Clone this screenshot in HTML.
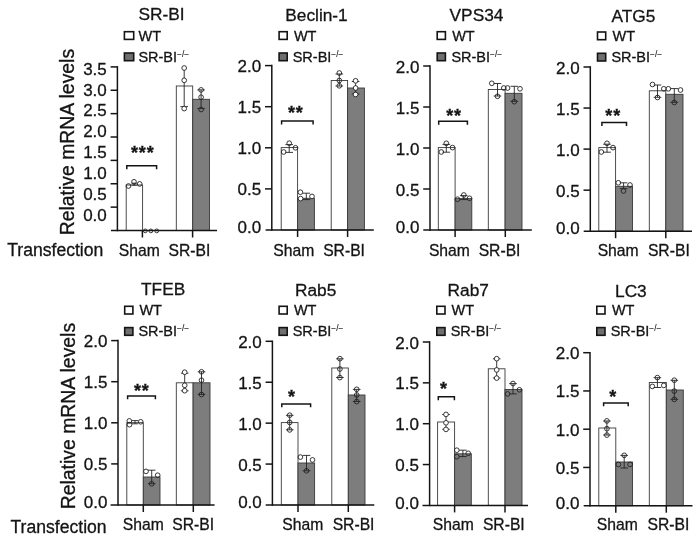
<!DOCTYPE html>
<html><head><meta charset="utf-8"><title>chart</title>
<style>html,body{margin:0;padding:0;background:#fff;}body{width:700px;height:540px;overflow:hidden;font-family:"Liberation Sans",sans-serif;}svg{display:block;will-change:transform;}</style>
</head><body>
<svg width="700" height="540" viewBox="0 0 700 540" font-family='"Liberation Sans", sans-serif' fill="#141414">
<rect x="0" y="0" width="700" height="540" fill="#fff"/>
<rect x="126.20" y="185.00" width="16.40" height="45.50" fill="#fff" stroke="#3a3a3a" stroke-width="0.9"/>
<rect x="176.30" y="86.00" width="16.40" height="144.50" fill="#fff" stroke="#3a3a3a" stroke-width="0.9"/>
<rect x="192.70" y="99.30" width="16.80" height="131.20" fill="#7d7d7d" stroke="#3a3a3a" stroke-width="0.9"/>
<line x1="117.40" y1="66.15" x2="117.40" y2="231.25" stroke="#141414" stroke-width="1.5" stroke-linecap="butt"/>
<line x1="111.00" y1="230.50" x2="217.00" y2="230.50" stroke="#141414" stroke-width="1.5" stroke-linecap="butt"/>
<line x1="110.60" y1="66.90" x2="117.40" y2="66.90" stroke="#141414" stroke-width="1.5" stroke-linecap="butt"/>
<text x="106.80" y="74.70" font-size="17.0" text-anchor="end" stroke="#141414" stroke-width="0.3" >3.5</text>
<line x1="110.60" y1="90.27" x2="117.40" y2="90.27" stroke="#141414" stroke-width="1.5" stroke-linecap="butt"/>
<text x="106.80" y="95.55" font-size="17.0" text-anchor="end" stroke="#141414" stroke-width="0.3" >3.0</text>
<line x1="110.60" y1="113.64" x2="117.40" y2="113.64" stroke="#141414" stroke-width="1.5" stroke-linecap="butt"/>
<text x="106.80" y="116.40" font-size="17.0" text-anchor="end" stroke="#141414" stroke-width="0.3" >2.5</text>
<line x1="110.60" y1="137.01" x2="117.40" y2="137.01" stroke="#141414" stroke-width="1.5" stroke-linecap="butt"/>
<text x="106.80" y="137.25" font-size="17.0" text-anchor="end" stroke="#141414" stroke-width="0.3" >2.0</text>
<line x1="110.60" y1="160.39" x2="117.40" y2="160.39" stroke="#141414" stroke-width="1.5" stroke-linecap="butt"/>
<text x="106.80" y="158.10" font-size="17.0" text-anchor="end" stroke="#141414" stroke-width="0.3" >1.5</text>
<line x1="110.60" y1="183.76" x2="117.40" y2="183.76" stroke="#141414" stroke-width="1.5" stroke-linecap="butt"/>
<text x="106.80" y="178.95" font-size="17.0" text-anchor="end" stroke="#141414" stroke-width="0.3" >1.0</text>
<line x1="110.60" y1="207.13" x2="117.40" y2="207.13" stroke="#141414" stroke-width="1.5" stroke-linecap="butt"/>
<text x="106.80" y="199.80" font-size="17.0" text-anchor="end" stroke="#141414" stroke-width="0.3" >0.5</text>
<text x="106.80" y="220.65" font-size="17.0" text-anchor="end" stroke="#141414" stroke-width="0.3" >0.0</text>
<line x1="142.40" y1="230.50" x2="142.40" y2="237.50" stroke="#141414" stroke-width="1.5" stroke-linecap="butt"/>
<line x1="192.60" y1="230.50" x2="192.60" y2="237.50" stroke="#141414" stroke-width="1.5" stroke-linecap="butt"/>
<line x1="134.20" y1="183.20" x2="134.20" y2="185.20" stroke="#222" stroke-width="0.9" stroke-linecap="butt"/>
<line x1="131.60" y1="183.20" x2="136.80" y2="183.20" stroke="#222" stroke-width="0.9" stroke-linecap="butt"/>
<line x1="131.60" y1="185.20" x2="136.80" y2="185.20" stroke="#222" stroke-width="0.9" stroke-linecap="butt"/>
<line x1="184.20" y1="68.50" x2="184.20" y2="106.60" stroke="#222" stroke-width="0.9" stroke-linecap="butt"/>
<line x1="180.40" y1="106.60" x2="188.00" y2="106.60" stroke="#222" stroke-width="0.9" stroke-linecap="butt"/>
<line x1="201.10" y1="89.90" x2="201.10" y2="108.60" stroke="#222" stroke-width="0.9" stroke-linecap="butt"/>
<line x1="197.30" y1="89.90" x2="204.90" y2="89.90" stroke="#222" stroke-width="0.9" stroke-linecap="butt"/>
<line x1="197.30" y1="108.60" x2="204.90" y2="108.60" stroke="#222" stroke-width="0.9" stroke-linecap="butt"/>
<circle cx="128.50" cy="186.00" r="2.35" fill="none" stroke="#222" stroke-width="0.9"/>
<circle cx="134.00" cy="181.80" r="2.35" fill="none" stroke="#222" stroke-width="0.9"/>
<circle cx="139.70" cy="183.90" r="2.35" fill="none" stroke="#222" stroke-width="0.9"/>
<circle cx="145.30" cy="230.90" r="1.9" fill="none" stroke="#222" stroke-width="0.9"/>
<circle cx="150.90" cy="230.90" r="1.9" fill="none" stroke="#222" stroke-width="0.9"/>
<circle cx="156.70" cy="230.90" r="1.9" fill="none" stroke="#222" stroke-width="0.9"/>
<circle cx="184.20" cy="68.00" r="2.35" fill="#fff" stroke="#222" stroke-width="0.9"/>
<circle cx="184.20" cy="80.30" r="2.35" fill="#fff" stroke="#222" stroke-width="0.9"/>
<circle cx="184.20" cy="108.60" r="2.35" fill="#fff" stroke="#222" stroke-width="0.9"/>
<circle cx="201.10" cy="89.90" r="2.35" fill="none" stroke="#222" stroke-width="0.9"/>
<circle cx="201.10" cy="97.20" r="2.35" fill="none" stroke="#222" stroke-width="0.9"/>
<circle cx="201.10" cy="109.50" r="2.35" fill="none" stroke="#222" stroke-width="0.9"/>
<polyline points="126.80,169.20 126.80,165.80 156.60,165.80 156.60,169.20" fill="none" stroke="#141414" stroke-width="1.5"/>
<text x="142.75" y="159.00" font-size="18" text-anchor="middle" stroke="#141414" stroke-width="0.3" font-weight="bold" letter-spacing="0.9">***</text>
<text x="161.50" y="20.40" font-size="17.3" text-anchor="middle" stroke="#141414" stroke-width="0.3" >SR-BI</text>
<rect x="124.40" y="31.70" width="9.30" height="7.70" fill="#fff" stroke="#141414" stroke-width="1.6"/>
<rect x="124.40" y="53.00" width="9.30" height="7.70" fill="#6f6f6f" stroke="#141414" stroke-width="1.6"/>
<text x="138.60" y="40.50" font-size="14.5" text-anchor="start" stroke="#141414" stroke-width="0.3" >WT</text>
<text x="138.40" y="61.50" font-size="14.5" text-anchor="start" stroke="#141414" stroke-width="0.3" >SR-BI<tspan font-size="8.3" dy="-5" stroke-width="0.1">−/−</tspan></text>
<text x="139.30" y="256.40" font-size="15.7" text-anchor="middle" stroke="#141414" stroke-width="0.3" >Sham</text>
<text x="189.45" y="256.40" font-size="15.7" text-anchor="middle" stroke="#141414" stroke-width="0.3" >SR-BI</text>
<rect x="281.20" y="147.60" width="16.40" height="82.40" fill="#fff" stroke="#3a3a3a" stroke-width="0.9"/>
<rect x="297.60" y="198.30" width="16.80" height="31.70" fill="#7d7d7d" stroke="#3a3a3a" stroke-width="0.9"/>
<rect x="331.20" y="80.50" width="16.40" height="149.50" fill="#fff" stroke="#3a3a3a" stroke-width="0.9"/>
<rect x="347.60" y="88.00" width="16.80" height="142.00" fill="#7d7d7d" stroke="#3a3a3a" stroke-width="0.9"/>
<line x1="271.80" y1="64.85" x2="271.80" y2="230.75" stroke="#141414" stroke-width="1.5" stroke-linecap="butt"/>
<line x1="265.60" y1="230.00" x2="373.80" y2="230.00" stroke="#141414" stroke-width="1.5" stroke-linecap="butt"/>
<line x1="265.00" y1="65.60" x2="271.80" y2="65.60" stroke="#141414" stroke-width="1.5" stroke-linecap="butt"/>
<text x="261.20" y="72.10" font-size="17.0" text-anchor="end" stroke="#141414" stroke-width="0.3" >2.0</text>
<line x1="265.00" y1="106.70" x2="271.80" y2="106.70" stroke="#141414" stroke-width="1.5" stroke-linecap="butt"/>
<text x="261.20" y="113.20" font-size="17.0" text-anchor="end" stroke="#141414" stroke-width="0.3" >1.5</text>
<line x1="265.00" y1="147.80" x2="271.80" y2="147.80" stroke="#141414" stroke-width="1.5" stroke-linecap="butt"/>
<text x="261.20" y="154.30" font-size="17.0" text-anchor="end" stroke="#141414" stroke-width="0.3" >1.0</text>
<line x1="265.00" y1="188.90" x2="271.80" y2="188.90" stroke="#141414" stroke-width="1.5" stroke-linecap="butt"/>
<text x="261.20" y="195.40" font-size="17.0" text-anchor="end" stroke="#141414" stroke-width="0.3" >0.5</text>
<text x="261.20" y="233.20" font-size="17.0" text-anchor="end" stroke="#141414" stroke-width="0.3" >0.0</text>
<line x1="297.60" y1="230.00" x2="297.60" y2="237.00" stroke="#141414" stroke-width="1.5" stroke-linecap="butt"/>
<line x1="347.60" y1="230.00" x2="347.60" y2="237.00" stroke="#141414" stroke-width="1.5" stroke-linecap="butt"/>
<line x1="289.20" y1="144.60" x2="289.20" y2="152.40" stroke="#222" stroke-width="0.9" stroke-linecap="butt"/>
<line x1="285.40" y1="144.60" x2="293.00" y2="144.60" stroke="#222" stroke-width="0.9" stroke-linecap="butt"/>
<line x1="285.40" y1="152.40" x2="293.00" y2="152.40" stroke="#222" stroke-width="0.9" stroke-linecap="butt"/>
<line x1="306.30" y1="193.20" x2="306.30" y2="199.60" stroke="#222" stroke-width="0.9" stroke-linecap="butt"/>
<line x1="302.50" y1="193.20" x2="310.10" y2="193.20" stroke="#222" stroke-width="0.9" stroke-linecap="butt"/>
<line x1="302.50" y1="199.60" x2="310.10" y2="199.60" stroke="#222" stroke-width="0.9" stroke-linecap="butt"/>
<line x1="339.30" y1="74.00" x2="339.30" y2="86.00" stroke="#222" stroke-width="0.9" stroke-linecap="butt"/>
<line x1="335.50" y1="74.00" x2="343.10" y2="74.00" stroke="#222" stroke-width="0.9" stroke-linecap="butt"/>
<line x1="335.50" y1="86.00" x2="343.10" y2="86.00" stroke="#222" stroke-width="0.9" stroke-linecap="butt"/>
<line x1="355.60" y1="81.50" x2="355.60" y2="94.00" stroke="#222" stroke-width="0.9" stroke-linecap="butt"/>
<line x1="351.80" y1="81.50" x2="359.40" y2="81.50" stroke="#222" stroke-width="0.9" stroke-linecap="butt"/>
<line x1="351.80" y1="94.00" x2="359.40" y2="94.00" stroke="#222" stroke-width="0.9" stroke-linecap="butt"/>
<circle cx="283.70" cy="152.00" r="2.35" fill="none" stroke="#222" stroke-width="0.9"/>
<circle cx="289.20" cy="143.20" r="2.35" fill="none" stroke="#222" stroke-width="0.9"/>
<circle cx="295.50" cy="147.80" r="2.35" fill="none" stroke="#222" stroke-width="0.9"/>
<circle cx="300.40" cy="192.20" r="2.35" fill="#fff" stroke="#222" stroke-width="0.9"/>
<circle cx="300.60" cy="198.60" r="2.35" fill="#fff" stroke="#222" stroke-width="0.9"/>
<circle cx="312.00" cy="196.40" r="2.35" fill="#fff" stroke="#222" stroke-width="0.9"/>
<circle cx="339.30" cy="73.00" r="2.35" fill="none" stroke="#222" stroke-width="0.9"/>
<circle cx="339.30" cy="80.50" r="2.35" fill="none" stroke="#222" stroke-width="0.9"/>
<circle cx="339.30" cy="85.80" r="2.35" fill="none" stroke="#222" stroke-width="0.9"/>
<circle cx="355.60" cy="80.80" r="2.35" fill="#fff" stroke="#222" stroke-width="0.9"/>
<circle cx="355.60" cy="88.00" r="2.35" fill="#fff" stroke="#222" stroke-width="0.9"/>
<circle cx="355.60" cy="94.50" r="2.35" fill="#fff" stroke="#222" stroke-width="0.9"/>
<polyline points="281.60,124.50 281.60,121.10 313.10,121.10 313.10,124.50" fill="none" stroke="#141414" stroke-width="1.5"/>
<text x="295.85" y="118.80" font-size="18" text-anchor="middle" stroke="#141414" stroke-width="0.3" font-weight="bold" letter-spacing="0.9">**</text>
<text x="316.50" y="20.50" font-size="17.3" text-anchor="middle" stroke="#141414" stroke-width="0.3" >Beclin-1</text>
<rect x="279.10" y="31.70" width="8.10" height="7.70" fill="#fff" stroke="#141414" stroke-width="1.6"/>
<rect x="279.10" y="53.00" width="8.10" height="7.70" fill="#6f6f6f" stroke="#141414" stroke-width="1.6"/>
<text x="293.90" y="40.50" font-size="14.5" text-anchor="start" stroke="#141414" stroke-width="0.3" >WT</text>
<text x="292.70" y="61.50" font-size="14.5" text-anchor="start" stroke="#141414" stroke-width="0.3" >SR-BI<tspan font-size="8.3" dy="-5" stroke-width="0.1">−/−</tspan></text>
<text x="293.75" y="256.30" font-size="15.7" text-anchor="middle" stroke="#141414" stroke-width="0.3" >Sham</text>
<text x="344.07" y="256.30" font-size="15.7" text-anchor="middle" stroke="#141414" stroke-width="0.3" >SR-BI</text>
<rect x="438.30" y="147.60" width="16.80" height="82.40" fill="#fff" stroke="#3a3a3a" stroke-width="0.9"/>
<rect x="455.10" y="198.60" width="16.70" height="31.40" fill="#7d7d7d" stroke="#3a3a3a" stroke-width="0.9"/>
<rect x="488.30" y="89.50" width="16.80" height="140.50" fill="#fff" stroke="#3a3a3a" stroke-width="0.9"/>
<rect x="505.10" y="93.30" width="16.90" height="136.70" fill="#7d7d7d" stroke="#3a3a3a" stroke-width="0.9"/>
<line x1="430.00" y1="65.25" x2="430.00" y2="230.75" stroke="#141414" stroke-width="1.5" stroke-linecap="butt"/>
<line x1="423.30" y1="230.00" x2="531.80" y2="230.00" stroke="#141414" stroke-width="1.5" stroke-linecap="butt"/>
<line x1="423.20" y1="66.00" x2="430.00" y2="66.00" stroke="#141414" stroke-width="1.5" stroke-linecap="butt"/>
<text x="419.40" y="72.50" font-size="17.0" text-anchor="end" stroke="#141414" stroke-width="0.3" >2.0</text>
<line x1="423.20" y1="107.00" x2="430.00" y2="107.00" stroke="#141414" stroke-width="1.5" stroke-linecap="butt"/>
<text x="419.40" y="113.50" font-size="17.0" text-anchor="end" stroke="#141414" stroke-width="0.3" >1.5</text>
<line x1="423.20" y1="148.00" x2="430.00" y2="148.00" stroke="#141414" stroke-width="1.5" stroke-linecap="butt"/>
<text x="419.40" y="154.50" font-size="17.0" text-anchor="end" stroke="#141414" stroke-width="0.3" >1.0</text>
<line x1="423.20" y1="189.00" x2="430.00" y2="189.00" stroke="#141414" stroke-width="1.5" stroke-linecap="butt"/>
<text x="419.40" y="195.50" font-size="17.0" text-anchor="end" stroke="#141414" stroke-width="0.3" >0.5</text>
<text x="419.40" y="233.20" font-size="17.0" text-anchor="end" stroke="#141414" stroke-width="0.3" >0.0</text>
<line x1="455.10" y1="230.00" x2="455.10" y2="237.00" stroke="#141414" stroke-width="1.5" stroke-linecap="butt"/>
<line x1="505.30" y1="230.00" x2="505.30" y2="237.00" stroke="#141414" stroke-width="1.5" stroke-linecap="butt"/>
<line x1="446.30" y1="144.40" x2="446.30" y2="152.20" stroke="#222" stroke-width="0.9" stroke-linecap="butt"/>
<line x1="442.50" y1="144.40" x2="450.10" y2="144.40" stroke="#222" stroke-width="0.9" stroke-linecap="butt"/>
<line x1="442.50" y1="152.20" x2="450.10" y2="152.20" stroke="#222" stroke-width="0.9" stroke-linecap="butt"/>
<line x1="463.70" y1="195.60" x2="463.70" y2="199.60" stroke="#222" stroke-width="0.9" stroke-linecap="butt"/>
<line x1="459.90" y1="195.60" x2="467.50" y2="195.60" stroke="#222" stroke-width="0.9" stroke-linecap="butt"/>
<line x1="459.90" y1="199.60" x2="467.50" y2="199.60" stroke="#222" stroke-width="0.9" stroke-linecap="butt"/>
<line x1="497.50" y1="83.50" x2="497.50" y2="96.00" stroke="#222" stroke-width="0.9" stroke-linecap="butt"/>
<line x1="493.70" y1="83.50" x2="501.30" y2="83.50" stroke="#222" stroke-width="0.9" stroke-linecap="butt"/>
<line x1="493.70" y1="96.00" x2="501.30" y2="96.00" stroke="#222" stroke-width="0.9" stroke-linecap="butt"/>
<line x1="514.30" y1="86.30" x2="514.30" y2="101.30" stroke="#222" stroke-width="0.9" stroke-linecap="butt"/>
<line x1="510.50" y1="86.30" x2="518.10" y2="86.30" stroke="#222" stroke-width="0.9" stroke-linecap="butt"/>
<line x1="510.50" y1="101.30" x2="518.10" y2="101.30" stroke="#222" stroke-width="0.9" stroke-linecap="butt"/>
<circle cx="441.30" cy="152.00" r="2.35" fill="none" stroke="#222" stroke-width="0.9"/>
<circle cx="446.30" cy="143.30" r="2.35" fill="none" stroke="#222" stroke-width="0.9"/>
<circle cx="452.50" cy="147.60" r="2.35" fill="none" stroke="#222" stroke-width="0.9"/>
<circle cx="457.50" cy="199.20" r="2.35" fill="none" stroke="#222" stroke-width="0.9"/>
<circle cx="463.80" cy="195.00" r="2.35" fill="none" stroke="#222" stroke-width="0.9"/>
<circle cx="469.50" cy="198.30" r="2.35" fill="none" stroke="#222" stroke-width="0.9"/>
<circle cx="491.80" cy="83.30" r="2.35" fill="none" stroke="#222" stroke-width="0.9"/>
<circle cx="497.50" cy="96.30" r="2.35" fill="none" stroke="#222" stroke-width="0.9"/>
<circle cx="503.80" cy="88.00" r="2.35" fill="none" stroke="#222" stroke-width="0.9"/>
<circle cx="507.60" cy="88.00" r="2.35" fill="none" stroke="#222" stroke-width="0.9"/>
<circle cx="514.30" cy="101.70" r="2.35" fill="none" stroke="#222" stroke-width="0.9"/>
<circle cx="520.00" cy="88.80" r="2.35" fill="none" stroke="#222" stroke-width="0.9"/>
<polyline points="438.70,124.70 438.70,121.30 467.40,121.30 467.40,124.70" fill="none" stroke="#141414" stroke-width="1.5"/>
<text x="454.05" y="121.90" font-size="18" text-anchor="middle" stroke="#141414" stroke-width="0.3" font-weight="bold" letter-spacing="0.9">**</text>
<text x="476.50" y="20.50" font-size="17.3" text-anchor="middle" stroke="#141414" stroke-width="0.3" >VPS34</text>
<rect x="437.20" y="31.70" width="8.20" height="7.70" fill="#fff" stroke="#141414" stroke-width="1.6"/>
<rect x="437.20" y="53.00" width="8.20" height="7.70" fill="#6f6f6f" stroke="#141414" stroke-width="1.6"/>
<text x="452.20" y="40.50" font-size="14.5" text-anchor="start" stroke="#141414" stroke-width="0.3" >WT</text>
<text x="451.40" y="61.50" font-size="14.5" text-anchor="start" stroke="#141414" stroke-width="0.3" >SR-BI<tspan font-size="8.3" dy="-5" stroke-width="0.1">−/−</tspan></text>
<text x="449.40" y="256.30" font-size="15.7" text-anchor="middle" stroke="#141414" stroke-width="0.3" >Sham</text>
<text x="499.55" y="256.30" font-size="15.7" text-anchor="middle" stroke="#141414" stroke-width="0.3" >SR-BI</text>
<rect x="598.80" y="147.60" width="16.80" height="83.60" fill="#fff" stroke="#3a3a3a" stroke-width="0.9"/>
<rect x="615.60" y="186.30" width="16.90" height="44.90" fill="#7d7d7d" stroke="#3a3a3a" stroke-width="0.9"/>
<rect x="649.30" y="90.80" width="16.50" height="140.40" fill="#fff" stroke="#3a3a3a" stroke-width="0.9"/>
<rect x="665.80" y="94.30" width="17.20" height="136.90" fill="#7d7d7d" stroke="#3a3a3a" stroke-width="0.9"/>
<line x1="590.30" y1="66.25" x2="590.30" y2="231.95" stroke="#141414" stroke-width="1.5" stroke-linecap="butt"/>
<line x1="583.70" y1="231.20" x2="692.00" y2="231.20" stroke="#141414" stroke-width="1.5" stroke-linecap="butt"/>
<line x1="583.50" y1="67.00" x2="590.30" y2="67.00" stroke="#141414" stroke-width="1.5" stroke-linecap="butt"/>
<text x="579.70" y="73.50" font-size="17.0" text-anchor="end" stroke="#141414" stroke-width="0.3" >2.0</text>
<line x1="583.50" y1="108.05" x2="590.30" y2="108.05" stroke="#141414" stroke-width="1.5" stroke-linecap="butt"/>
<text x="579.70" y="114.55" font-size="17.0" text-anchor="end" stroke="#141414" stroke-width="0.3" >1.5</text>
<line x1="583.50" y1="149.10" x2="590.30" y2="149.10" stroke="#141414" stroke-width="1.5" stroke-linecap="butt"/>
<text x="579.70" y="155.60" font-size="17.0" text-anchor="end" stroke="#141414" stroke-width="0.3" >1.0</text>
<line x1="583.50" y1="190.15" x2="590.30" y2="190.15" stroke="#141414" stroke-width="1.5" stroke-linecap="butt"/>
<text x="579.70" y="196.65" font-size="17.0" text-anchor="end" stroke="#141414" stroke-width="0.3" >0.5</text>
<text x="579.70" y="234.40" font-size="17.0" text-anchor="end" stroke="#141414" stroke-width="0.3" >0.0</text>
<line x1="615.60" y1="231.20" x2="615.60" y2="238.20" stroke="#141414" stroke-width="1.5" stroke-linecap="butt"/>
<line x1="665.80" y1="231.20" x2="665.80" y2="238.20" stroke="#141414" stroke-width="1.5" stroke-linecap="butt"/>
<line x1="607.00" y1="144.20" x2="607.00" y2="152.20" stroke="#222" stroke-width="0.9" stroke-linecap="butt"/>
<line x1="603.20" y1="144.20" x2="610.80" y2="144.20" stroke="#222" stroke-width="0.9" stroke-linecap="butt"/>
<line x1="603.20" y1="152.20" x2="610.80" y2="152.20" stroke="#222" stroke-width="0.9" stroke-linecap="butt"/>
<line x1="623.60" y1="182.80" x2="623.60" y2="188.60" stroke="#222" stroke-width="0.9" stroke-linecap="butt"/>
<line x1="619.80" y1="182.80" x2="627.40" y2="182.80" stroke="#222" stroke-width="0.9" stroke-linecap="butt"/>
<line x1="619.80" y1="188.60" x2="627.40" y2="188.60" stroke="#222" stroke-width="0.9" stroke-linecap="butt"/>
<line x1="657.50" y1="85.00" x2="657.50" y2="97.30" stroke="#222" stroke-width="0.9" stroke-linecap="butt"/>
<line x1="653.70" y1="85.00" x2="661.30" y2="85.00" stroke="#222" stroke-width="0.9" stroke-linecap="butt"/>
<line x1="653.70" y1="97.30" x2="661.30" y2="97.30" stroke="#222" stroke-width="0.9" stroke-linecap="butt"/>
<line x1="674.30" y1="88.60" x2="674.30" y2="102.30" stroke="#222" stroke-width="0.9" stroke-linecap="butt"/>
<line x1="670.50" y1="88.60" x2="678.10" y2="88.60" stroke="#222" stroke-width="0.9" stroke-linecap="butt"/>
<line x1="670.50" y1="102.30" x2="678.10" y2="102.30" stroke="#222" stroke-width="0.9" stroke-linecap="butt"/>
<circle cx="601.30" cy="152.00" r="2.35" fill="none" stroke="#222" stroke-width="0.9"/>
<circle cx="607.00" cy="143.30" r="2.35" fill="none" stroke="#222" stroke-width="0.9"/>
<circle cx="613.00" cy="147.60" r="2.35" fill="none" stroke="#222" stroke-width="0.9"/>
<circle cx="618.30" cy="182.80" r="2.35" fill="none" stroke="#222" stroke-width="0.9"/>
<circle cx="623.50" cy="191.00" r="2.35" fill="none" stroke="#222" stroke-width="0.9"/>
<circle cx="630.00" cy="185.00" r="2.35" fill="none" stroke="#222" stroke-width="0.9"/>
<circle cx="652.50" cy="84.50" r="2.35" fill="none" stroke="#222" stroke-width="0.9"/>
<circle cx="657.50" cy="97.50" r="2.35" fill="none" stroke="#222" stroke-width="0.9"/>
<circle cx="663.80" cy="88.80" r="2.35" fill="none" stroke="#222" stroke-width="0.9"/>
<circle cx="668.30" cy="88.80" r="2.35" fill="none" stroke="#222" stroke-width="0.9"/>
<circle cx="674.30" cy="102.50" r="2.35" fill="none" stroke="#222" stroke-width="0.9"/>
<circle cx="680.50" cy="90.00" r="2.35" fill="none" stroke="#222" stroke-width="0.9"/>
<polyline points="601.90,125.90 601.90,122.50 626.50,122.50 626.50,125.90" fill="none" stroke="#141414" stroke-width="1.5"/>
<text x="613.15" y="122.00" font-size="18" text-anchor="middle" stroke="#141414" stroke-width="0.3" font-weight="bold" letter-spacing="0.9">**</text>
<text x="633.50" y="21.50" font-size="17.3" text-anchor="middle" stroke="#141414" stroke-width="0.3" >ATG5</text>
<rect x="597.50" y="32.00" width="8.20" height="7.70" fill="#fff" stroke="#141414" stroke-width="1.6"/>
<rect x="597.50" y="53.30" width="8.20" height="7.70" fill="#6f6f6f" stroke="#141414" stroke-width="1.6"/>
<text x="612.60" y="40.80" font-size="14.5" text-anchor="start" stroke="#141414" stroke-width="0.3" >WT</text>
<text x="611.40" y="61.80" font-size="14.5" text-anchor="start" stroke="#141414" stroke-width="0.3" >SR-BI<tspan font-size="8.3" dy="-5" stroke-width="0.1">−/−</tspan></text>
<text x="618.12" y="256.30" font-size="15.7" text-anchor="middle" stroke="#141414" stroke-width="0.3" >Sham</text>
<text x="668.83" y="256.30" font-size="15.7" text-anchor="middle" stroke="#141414" stroke-width="0.3" >SR-BI</text>
<rect x="126.80" y="422.70" width="16.50" height="82.30" fill="#fff" stroke="#3a3a3a" stroke-width="0.9"/>
<rect x="143.30" y="477.00" width="16.70" height="28.00" fill="#7d7d7d" stroke="#3a3a3a" stroke-width="0.9"/>
<rect x="176.30" y="382.80" width="16.80" height="122.20" fill="#fff" stroke="#3a3a3a" stroke-width="0.9"/>
<rect x="193.10" y="382.80" width="16.90" height="122.20" fill="#7d7d7d" stroke="#3a3a3a" stroke-width="0.9"/>
<line x1="118.00" y1="339.85" x2="118.00" y2="505.75" stroke="#141414" stroke-width="1.5" stroke-linecap="butt"/>
<line x1="110.60" y1="505.00" x2="214.60" y2="505.00" stroke="#141414" stroke-width="1.5" stroke-linecap="butt"/>
<line x1="111.20" y1="340.60" x2="118.00" y2="340.60" stroke="#141414" stroke-width="1.5" stroke-linecap="butt"/>
<text x="107.40" y="347.10" font-size="17.0" text-anchor="end" stroke="#141414" stroke-width="0.3" >2.0</text>
<line x1="111.20" y1="381.70" x2="118.00" y2="381.70" stroke="#141414" stroke-width="1.5" stroke-linecap="butt"/>
<text x="107.40" y="388.20" font-size="17.0" text-anchor="end" stroke="#141414" stroke-width="0.3" >1.5</text>
<line x1="111.20" y1="422.80" x2="118.00" y2="422.80" stroke="#141414" stroke-width="1.5" stroke-linecap="butt"/>
<text x="107.40" y="429.30" font-size="17.0" text-anchor="end" stroke="#141414" stroke-width="0.3" >1.0</text>
<line x1="111.20" y1="463.90" x2="118.00" y2="463.90" stroke="#141414" stroke-width="1.5" stroke-linecap="butt"/>
<text x="107.40" y="470.40" font-size="17.0" text-anchor="end" stroke="#141414" stroke-width="0.3" >0.5</text>
<text x="107.40" y="508.20" font-size="17.0" text-anchor="end" stroke="#141414" stroke-width="0.3" >0.0</text>
<line x1="143.30" y1="505.00" x2="143.30" y2="512.00" stroke="#141414" stroke-width="1.5" stroke-linecap="butt"/>
<line x1="193.30" y1="505.00" x2="193.30" y2="512.00" stroke="#141414" stroke-width="1.5" stroke-linecap="butt"/>
<line x1="135.00" y1="420.60" x2="135.00" y2="423.80" stroke="#222" stroke-width="0.9" stroke-linecap="butt"/>
<line x1="132.00" y1="420.60" x2="138.00" y2="420.60" stroke="#222" stroke-width="0.9" stroke-linecap="butt"/>
<line x1="132.00" y1="423.80" x2="138.00" y2="423.80" stroke="#222" stroke-width="0.9" stroke-linecap="butt"/>
<line x1="151.70" y1="470.20" x2="151.70" y2="483.70" stroke="#222" stroke-width="0.9" stroke-linecap="butt"/>
<line x1="147.90" y1="470.20" x2="155.50" y2="470.20" stroke="#222" stroke-width="0.9" stroke-linecap="butt"/>
<line x1="147.90" y1="483.70" x2="155.50" y2="483.70" stroke="#222" stroke-width="0.9" stroke-linecap="butt"/>
<line x1="184.70" y1="373.20" x2="184.70" y2="390.80" stroke="#222" stroke-width="0.9" stroke-linecap="butt"/>
<line x1="180.90" y1="373.20" x2="188.50" y2="373.20" stroke="#222" stroke-width="0.9" stroke-linecap="butt"/>
<line x1="180.90" y1="390.80" x2="188.50" y2="390.80" stroke="#222" stroke-width="0.9" stroke-linecap="butt"/>
<line x1="201.50" y1="371.80" x2="201.50" y2="394.40" stroke="#222" stroke-width="0.9" stroke-linecap="butt"/>
<line x1="197.70" y1="371.80" x2="205.30" y2="371.80" stroke="#222" stroke-width="0.9" stroke-linecap="butt"/>
<line x1="197.70" y1="394.40" x2="205.30" y2="394.40" stroke="#222" stroke-width="0.9" stroke-linecap="butt"/>
<circle cx="129.30" cy="420.90" r="2.35" fill="none" stroke="#222" stroke-width="0.9"/>
<circle cx="129.50" cy="424.70" r="2.35" fill="none" stroke="#222" stroke-width="0.9"/>
<circle cx="140.70" cy="421.80" r="2.35" fill="none" stroke="#222" stroke-width="0.9"/>
<circle cx="146.00" cy="471.40" r="2.35" fill="none" stroke="#222" stroke-width="0.9"/>
<circle cx="151.70" cy="483.80" r="2.35" fill="none" stroke="#222" stroke-width="0.9"/>
<circle cx="157.70" cy="475.20" r="2.35" fill="none" stroke="#222" stroke-width="0.9"/>
<circle cx="184.70" cy="372.20" r="2.35" fill="#fff" stroke="#222" stroke-width="0.9"/>
<circle cx="184.70" cy="385.30" r="2.35" fill="#fff" stroke="#222" stroke-width="0.9"/>
<circle cx="184.70" cy="390.70" r="2.35" fill="#fff" stroke="#222" stroke-width="0.9"/>
<circle cx="201.50" cy="371.80" r="2.35" fill="none" stroke="#222" stroke-width="0.9"/>
<circle cx="201.50" cy="380.20" r="2.35" fill="none" stroke="#222" stroke-width="0.9"/>
<circle cx="201.50" cy="394.50" r="2.35" fill="none" stroke="#222" stroke-width="0.9"/>
<polyline points="127.60,399.30 127.60,395.90 155.40,395.90 155.40,399.30" fill="none" stroke="#141414" stroke-width="1.5"/>
<text x="141.85" y="397.20" font-size="18" text-anchor="middle" stroke="#141414" stroke-width="0.3" font-weight="bold" letter-spacing="0.9">**</text>
<text x="163.12" y="295.40" font-size="17.3" text-anchor="middle" stroke="#141414" stroke-width="0.3" >TFEB</text>
<rect x="124.70" y="306.30" width="8.20" height="7.70" fill="#fff" stroke="#141414" stroke-width="1.6"/>
<rect x="124.70" y="327.60" width="8.20" height="7.70" fill="#6f6f6f" stroke="#141414" stroke-width="1.6"/>
<text x="139.40" y="315.10" font-size="14.5" text-anchor="start" stroke="#141414" stroke-width="0.3" >WT</text>
<text x="138.40" y="336.10" font-size="14.5" text-anchor="start" stroke="#141414" stroke-width="0.3" >SR-BI<tspan font-size="8.3" dy="-5" stroke-width="0.1">−/−</tspan></text>
<text x="143.25" y="530.10" font-size="15.7" text-anchor="middle" stroke="#141414" stroke-width="0.3" >Sham</text>
<text x="193.10" y="530.10" font-size="15.7" text-anchor="middle" stroke="#141414" stroke-width="0.3" >SR-BI</text>
<rect x="281.30" y="422.60" width="16.70" height="82.40" fill="#fff" stroke="#3a3a3a" stroke-width="0.9"/>
<rect x="298.00" y="463.00" width="16.60" height="42.00" fill="#7d7d7d" stroke="#3a3a3a" stroke-width="0.9"/>
<rect x="331.80" y="368.00" width="16.50" height="137.00" fill="#fff" stroke="#3a3a3a" stroke-width="0.9"/>
<rect x="348.30" y="395.00" width="16.70" height="110.00" fill="#7d7d7d" stroke="#3a3a3a" stroke-width="0.9"/>
<line x1="272.40" y1="340.55" x2="272.40" y2="505.75" stroke="#141414" stroke-width="1.5" stroke-linecap="butt"/>
<line x1="265.70" y1="505.00" x2="374.30" y2="505.00" stroke="#141414" stroke-width="1.5" stroke-linecap="butt"/>
<line x1="265.60" y1="341.30" x2="272.40" y2="341.30" stroke="#141414" stroke-width="1.5" stroke-linecap="butt"/>
<text x="261.80" y="347.80" font-size="17.0" text-anchor="end" stroke="#141414" stroke-width="0.3" >2.0</text>
<line x1="265.60" y1="382.23" x2="272.40" y2="382.23" stroke="#141414" stroke-width="1.5" stroke-linecap="butt"/>
<text x="261.80" y="388.73" font-size="17.0" text-anchor="end" stroke="#141414" stroke-width="0.3" >1.5</text>
<line x1="265.60" y1="423.15" x2="272.40" y2="423.15" stroke="#141414" stroke-width="1.5" stroke-linecap="butt"/>
<text x="261.80" y="429.65" font-size="17.0" text-anchor="end" stroke="#141414" stroke-width="0.3" >1.0</text>
<line x1="265.60" y1="464.07" x2="272.40" y2="464.07" stroke="#141414" stroke-width="1.5" stroke-linecap="butt"/>
<text x="261.80" y="470.57" font-size="17.0" text-anchor="end" stroke="#141414" stroke-width="0.3" >0.5</text>
<text x="261.80" y="508.20" font-size="17.0" text-anchor="end" stroke="#141414" stroke-width="0.3" >0.0</text>
<line x1="298.00" y1="505.00" x2="298.00" y2="512.00" stroke="#141414" stroke-width="1.5" stroke-linecap="butt"/>
<line x1="348.30" y1="505.00" x2="348.30" y2="512.00" stroke="#141414" stroke-width="1.5" stroke-linecap="butt"/>
<line x1="289.70" y1="415.30" x2="289.70" y2="429.80" stroke="#222" stroke-width="0.9" stroke-linecap="butt"/>
<line x1="285.90" y1="415.30" x2="293.50" y2="415.30" stroke="#222" stroke-width="0.9" stroke-linecap="butt"/>
<line x1="285.90" y1="429.80" x2="293.50" y2="429.80" stroke="#222" stroke-width="0.9" stroke-linecap="butt"/>
<line x1="306.50" y1="455.40" x2="306.50" y2="470.80" stroke="#222" stroke-width="0.9" stroke-linecap="butt"/>
<line x1="302.70" y1="455.40" x2="310.30" y2="455.40" stroke="#222" stroke-width="0.9" stroke-linecap="butt"/>
<line x1="302.70" y1="470.80" x2="310.30" y2="470.80" stroke="#222" stroke-width="0.9" stroke-linecap="butt"/>
<line x1="339.90" y1="358.80" x2="339.90" y2="377.50" stroke="#222" stroke-width="0.9" stroke-linecap="butt"/>
<line x1="336.10" y1="358.80" x2="343.70" y2="358.80" stroke="#222" stroke-width="0.9" stroke-linecap="butt"/>
<line x1="336.10" y1="377.50" x2="343.70" y2="377.50" stroke="#222" stroke-width="0.9" stroke-linecap="butt"/>
<line x1="356.70" y1="389.40" x2="356.70" y2="401.50" stroke="#222" stroke-width="0.9" stroke-linecap="butt"/>
<line x1="352.90" y1="389.40" x2="360.50" y2="389.40" stroke="#222" stroke-width="0.9" stroke-linecap="butt"/>
<line x1="352.90" y1="401.50" x2="360.50" y2="401.50" stroke="#222" stroke-width="0.9" stroke-linecap="butt"/>
<circle cx="289.70" cy="415.20" r="2.35" fill="none" stroke="#222" stroke-width="0.9"/>
<circle cx="289.70" cy="422.40" r="2.35" fill="none" stroke="#222" stroke-width="0.9"/>
<circle cx="289.70" cy="429.90" r="2.35" fill="none" stroke="#222" stroke-width="0.9"/>
<circle cx="300.40" cy="457.10" r="2.35" fill="none" stroke="#222" stroke-width="0.9"/>
<circle cx="306.50" cy="470.80" r="2.35" fill="none" stroke="#222" stroke-width="0.9"/>
<circle cx="312.50" cy="459.90" r="2.35" fill="none" stroke="#222" stroke-width="0.9"/>
<circle cx="339.90" cy="358.70" r="2.35" fill="none" stroke="#222" stroke-width="0.9"/>
<circle cx="339.90" cy="369.00" r="2.35" fill="none" stroke="#222" stroke-width="0.9"/>
<circle cx="339.90" cy="377.60" r="2.35" fill="none" stroke="#222" stroke-width="0.9"/>
<circle cx="356.70" cy="389.30" r="2.35" fill="none" stroke="#222" stroke-width="0.9"/>
<circle cx="356.70" cy="395.00" r="2.35" fill="none" stroke="#222" stroke-width="0.9"/>
<circle cx="356.70" cy="401.60" r="2.35" fill="none" stroke="#222" stroke-width="0.9"/>
<polyline points="281.80,407.30 281.80,403.90 310.60,403.90 310.60,407.30" fill="none" stroke="#141414" stroke-width="1.5"/>
<text x="291.95" y="402.70" font-size="18" text-anchor="middle" stroke="#141414" stroke-width="0.3" font-weight="bold" letter-spacing="0.9">*</text>
<text x="315.62" y="296.10" font-size="17.3" text-anchor="middle" stroke="#141414" stroke-width="0.3" >Rab5</text>
<rect x="279.10" y="306.30" width="8.10" height="7.70" fill="#fff" stroke="#141414" stroke-width="1.6"/>
<rect x="279.10" y="327.60" width="8.10" height="7.70" fill="#6f6f6f" stroke="#141414" stroke-width="1.6"/>
<text x="293.90" y="315.10" font-size="14.5" text-anchor="start" stroke="#141414" stroke-width="0.3" >WT</text>
<text x="292.70" y="336.10" font-size="14.5" text-anchor="start" stroke="#141414" stroke-width="0.3" >SR-BI<tspan font-size="8.3" dy="-5" stroke-width="0.1">−/−</tspan></text>
<text x="302.80" y="529.60" font-size="15.7" text-anchor="middle" stroke="#141414" stroke-width="0.3" >Sham</text>
<text x="353.57" y="529.60" font-size="15.7" text-anchor="middle" stroke="#141414" stroke-width="0.3" >SR-BI</text>
<rect x="437.60" y="422.00" width="17.00" height="83.40" fill="#fff" stroke="#3a3a3a" stroke-width="0.9"/>
<rect x="454.60" y="453.80" width="16.70" height="51.60" fill="#7d7d7d" stroke="#3a3a3a" stroke-width="0.9"/>
<rect x="488.30" y="368.80" width="16.70" height="136.60" fill="#fff" stroke="#3a3a3a" stroke-width="0.9"/>
<rect x="505.00" y="389.50" width="17.00" height="115.90" fill="#7d7d7d" stroke="#3a3a3a" stroke-width="0.9"/>
<line x1="429.60" y1="341.25" x2="429.60" y2="506.15" stroke="#141414" stroke-width="1.5" stroke-linecap="butt"/>
<line x1="422.50" y1="505.40" x2="528.00" y2="505.40" stroke="#141414" stroke-width="1.5" stroke-linecap="butt"/>
<line x1="422.80" y1="342.00" x2="429.60" y2="342.00" stroke="#141414" stroke-width="1.5" stroke-linecap="butt"/>
<text x="419.00" y="348.50" font-size="17.0" text-anchor="end" stroke="#141414" stroke-width="0.3" >2.0</text>
<line x1="422.80" y1="382.85" x2="429.60" y2="382.85" stroke="#141414" stroke-width="1.5" stroke-linecap="butt"/>
<text x="419.00" y="389.35" font-size="17.0" text-anchor="end" stroke="#141414" stroke-width="0.3" >1.5</text>
<line x1="422.80" y1="423.70" x2="429.60" y2="423.70" stroke="#141414" stroke-width="1.5" stroke-linecap="butt"/>
<text x="419.00" y="430.20" font-size="17.0" text-anchor="end" stroke="#141414" stroke-width="0.3" >1.0</text>
<line x1="422.80" y1="464.55" x2="429.60" y2="464.55" stroke="#141414" stroke-width="1.5" stroke-linecap="butt"/>
<text x="419.00" y="471.05" font-size="17.0" text-anchor="end" stroke="#141414" stroke-width="0.3" >0.5</text>
<text x="419.00" y="508.60" font-size="17.0" text-anchor="end" stroke="#141414" stroke-width="0.3" >0.0</text>
<line x1="454.60" y1="505.40" x2="454.60" y2="512.40" stroke="#141414" stroke-width="1.5" stroke-linecap="butt"/>
<line x1="505.00" y1="505.40" x2="505.00" y2="512.40" stroke="#141414" stroke-width="1.5" stroke-linecap="butt"/>
<line x1="446.00" y1="414.50" x2="446.00" y2="429.30" stroke="#222" stroke-width="0.9" stroke-linecap="butt"/>
<line x1="442.20" y1="414.50" x2="449.80" y2="414.50" stroke="#222" stroke-width="0.9" stroke-linecap="butt"/>
<line x1="442.20" y1="429.30" x2="449.80" y2="429.30" stroke="#222" stroke-width="0.9" stroke-linecap="butt"/>
<line x1="462.90" y1="450.20" x2="462.90" y2="456.60" stroke="#222" stroke-width="0.9" stroke-linecap="butt"/>
<line x1="459.10" y1="450.20" x2="466.70" y2="450.20" stroke="#222" stroke-width="0.9" stroke-linecap="butt"/>
<line x1="459.10" y1="456.60" x2="466.70" y2="456.60" stroke="#222" stroke-width="0.9" stroke-linecap="butt"/>
<line x1="496.70" y1="358.80" x2="496.70" y2="378.00" stroke="#222" stroke-width="0.9" stroke-linecap="butt"/>
<line x1="492.90" y1="358.80" x2="500.50" y2="358.80" stroke="#222" stroke-width="0.9" stroke-linecap="butt"/>
<line x1="492.90" y1="378.00" x2="500.50" y2="378.00" stroke="#222" stroke-width="0.9" stroke-linecap="butt"/>
<line x1="513.00" y1="383.60" x2="513.00" y2="393.90" stroke="#222" stroke-width="0.9" stroke-linecap="butt"/>
<line x1="509.20" y1="383.60" x2="516.80" y2="383.60" stroke="#222" stroke-width="0.9" stroke-linecap="butt"/>
<line x1="509.20" y1="393.90" x2="516.80" y2="393.90" stroke="#222" stroke-width="0.9" stroke-linecap="butt"/>
<circle cx="446.00" cy="414.40" r="2.35" fill="#fff" stroke="#222" stroke-width="0.9"/>
<circle cx="446.00" cy="422.80" r="2.35" fill="#fff" stroke="#222" stroke-width="0.9"/>
<circle cx="446.00" cy="429.40" r="2.35" fill="#fff" stroke="#222" stroke-width="0.9"/>
<circle cx="456.80" cy="450.20" r="2.35" fill="none" stroke="#222" stroke-width="0.9"/>
<circle cx="456.80" cy="456.70" r="2.35" fill="none" stroke="#222" stroke-width="0.9"/>
<circle cx="468.20" cy="453.30" r="2.35" fill="none" stroke="#222" stroke-width="0.9"/>
<circle cx="496.70" cy="358.70" r="2.35" fill="#fff" stroke="#222" stroke-width="0.9"/>
<circle cx="496.70" cy="369.90" r="2.35" fill="#fff" stroke="#222" stroke-width="0.9"/>
<circle cx="496.70" cy="378.10" r="2.35" fill="#fff" stroke="#222" stroke-width="0.9"/>
<circle cx="507.60" cy="393.90" r="2.35" fill="none" stroke="#222" stroke-width="0.9"/>
<circle cx="513.00" cy="383.50" r="2.35" fill="none" stroke="#222" stroke-width="0.9"/>
<circle cx="519.40" cy="389.80" r="2.35" fill="none" stroke="#222" stroke-width="0.9"/>
<polyline points="438.30,400.20 438.30,396.80 454.40,396.80 454.40,400.20" fill="none" stroke="#141414" stroke-width="1.5"/>
<text x="444.05" y="394.90" font-size="18" text-anchor="middle" stroke="#141414" stroke-width="0.3" font-weight="bold" letter-spacing="0.9">*</text>
<text x="468.25" y="296.10" font-size="17.3" text-anchor="middle" stroke="#141414" stroke-width="0.3" >Rab7</text>
<rect x="436.80" y="306.30" width="8.20" height="7.70" fill="#fff" stroke="#141414" stroke-width="1.6"/>
<rect x="436.80" y="327.60" width="8.20" height="7.70" fill="#6f6f6f" stroke="#141414" stroke-width="1.6"/>
<text x="451.60" y="315.10" font-size="14.5" text-anchor="start" stroke="#141414" stroke-width="0.3" >WT</text>
<text x="450.70" y="336.10" font-size="14.5" text-anchor="start" stroke="#141414" stroke-width="0.3" >SR-BI<tspan font-size="8.3" dy="-5" stroke-width="0.1">−/−</tspan></text>
<text x="453.25" y="530.00" font-size="15.7" text-anchor="middle" stroke="#141414" stroke-width="0.3" >Sham</text>
<text x="503.82" y="530.00" font-size="15.7" text-anchor="middle" stroke="#141414" stroke-width="0.3" >SR-BI</text>
<rect x="598.80" y="428.00" width="17.00" height="77.70" fill="#fff" stroke="#3a3a3a" stroke-width="0.9"/>
<rect x="615.80" y="462.00" width="16.70" height="43.70" fill="#7d7d7d" stroke="#3a3a3a" stroke-width="0.9"/>
<rect x="649.30" y="382.50" width="17.00" height="123.20" fill="#fff" stroke="#3a3a3a" stroke-width="0.9"/>
<rect x="666.30" y="390.00" width="17.00" height="115.70" fill="#7d7d7d" stroke="#3a3a3a" stroke-width="0.9"/>
<line x1="590.00" y1="351.95" x2="590.00" y2="506.45" stroke="#141414" stroke-width="1.5" stroke-linecap="butt"/>
<line x1="583.70" y1="505.70" x2="692.50" y2="505.70" stroke="#141414" stroke-width="1.5" stroke-linecap="butt"/>
<line x1="583.20" y1="352.70" x2="590.00" y2="352.70" stroke="#141414" stroke-width="1.5" stroke-linecap="butt"/>
<text x="579.40" y="359.20" font-size="17.0" text-anchor="end" stroke="#141414" stroke-width="0.3" >2.0</text>
<line x1="583.20" y1="390.95" x2="590.00" y2="390.95" stroke="#141414" stroke-width="1.5" stroke-linecap="butt"/>
<text x="579.40" y="397.45" font-size="17.0" text-anchor="end" stroke="#141414" stroke-width="0.3" >1.5</text>
<line x1="583.20" y1="429.20" x2="590.00" y2="429.20" stroke="#141414" stroke-width="1.5" stroke-linecap="butt"/>
<text x="579.40" y="435.70" font-size="17.0" text-anchor="end" stroke="#141414" stroke-width="0.3" >1.0</text>
<line x1="583.20" y1="467.45" x2="590.00" y2="467.45" stroke="#141414" stroke-width="1.5" stroke-linecap="butt"/>
<text x="579.40" y="473.95" font-size="17.0" text-anchor="end" stroke="#141414" stroke-width="0.3" >0.5</text>
<text x="579.40" y="508.90" font-size="17.0" text-anchor="end" stroke="#141414" stroke-width="0.3" >0.0</text>
<line x1="615.80" y1="505.70" x2="615.80" y2="512.70" stroke="#141414" stroke-width="1.5" stroke-linecap="butt"/>
<line x1="666.30" y1="505.70" x2="666.30" y2="512.70" stroke="#141414" stroke-width="1.5" stroke-linecap="butt"/>
<line x1="606.90" y1="421.00" x2="606.90" y2="435.00" stroke="#222" stroke-width="0.9" stroke-linecap="butt"/>
<line x1="603.10" y1="421.00" x2="610.70" y2="421.00" stroke="#222" stroke-width="0.9" stroke-linecap="butt"/>
<line x1="603.10" y1="435.00" x2="610.70" y2="435.00" stroke="#222" stroke-width="0.9" stroke-linecap="butt"/>
<line x1="624.20" y1="455.40" x2="624.20" y2="468.00" stroke="#222" stroke-width="0.9" stroke-linecap="butt"/>
<line x1="620.40" y1="455.40" x2="628.00" y2="455.40" stroke="#222" stroke-width="0.9" stroke-linecap="butt"/>
<line x1="620.40" y1="468.00" x2="628.00" y2="468.00" stroke="#222" stroke-width="0.9" stroke-linecap="butt"/>
<line x1="657.40" y1="377.70" x2="657.40" y2="387.50" stroke="#222" stroke-width="0.9" stroke-linecap="butt"/>
<line x1="653.60" y1="377.70" x2="661.20" y2="377.70" stroke="#222" stroke-width="0.9" stroke-linecap="butt"/>
<line x1="653.60" y1="387.50" x2="661.20" y2="387.50" stroke="#222" stroke-width="0.9" stroke-linecap="butt"/>
<line x1="674.30" y1="380.30" x2="674.30" y2="399.30" stroke="#222" stroke-width="0.9" stroke-linecap="butt"/>
<line x1="670.50" y1="380.30" x2="678.10" y2="380.30" stroke="#222" stroke-width="0.9" stroke-linecap="butt"/>
<line x1="670.50" y1="399.30" x2="678.10" y2="399.30" stroke="#222" stroke-width="0.9" stroke-linecap="butt"/>
<circle cx="606.90" cy="420.90" r="2.35" fill="none" stroke="#222" stroke-width="0.9"/>
<circle cx="606.90" cy="428.70" r="2.35" fill="none" stroke="#222" stroke-width="0.9"/>
<circle cx="606.90" cy="435.10" r="2.35" fill="none" stroke="#222" stroke-width="0.9"/>
<circle cx="618.40" cy="464.50" r="2.35" fill="none" stroke="#222" stroke-width="0.9"/>
<circle cx="624.20" cy="455.30" r="2.35" fill="none" stroke="#222" stroke-width="0.9"/>
<circle cx="630.10" cy="464.40" r="2.35" fill="none" stroke="#222" stroke-width="0.9"/>
<circle cx="652.30" cy="386.40" r="2.35" fill="none" stroke="#222" stroke-width="0.9"/>
<circle cx="657.40" cy="377.60" r="2.35" fill="none" stroke="#222" stroke-width="0.9"/>
<circle cx="663.80" cy="385.40" r="2.35" fill="none" stroke="#222" stroke-width="0.9"/>
<circle cx="674.30" cy="380.20" r="2.35" fill="none" stroke="#222" stroke-width="0.9"/>
<circle cx="674.30" cy="391.10" r="2.35" fill="none" stroke="#222" stroke-width="0.9"/>
<circle cx="674.30" cy="399.40" r="2.35" fill="none" stroke="#222" stroke-width="0.9"/>
<polyline points="603.60,406.30 603.60,402.90 628.20,402.90 628.20,406.30" fill="none" stroke="#141414" stroke-width="1.5"/>
<text x="613.15" y="402.60" font-size="18" text-anchor="middle" stroke="#141414" stroke-width="0.3" font-weight="bold" letter-spacing="0.9">*</text>
<text x="630.88" y="296.50" font-size="17.3" text-anchor="middle" stroke="#141414" stroke-width="0.3" >LC3</text>
<rect x="596.80" y="306.30" width="8.20" height="7.70" fill="#fff" stroke="#141414" stroke-width="1.6"/>
<rect x="596.80" y="327.60" width="8.20" height="7.70" fill="#6f6f6f" stroke="#141414" stroke-width="1.6"/>
<text x="611.90" y="315.10" font-size="14.5" text-anchor="start" stroke="#141414" stroke-width="0.3" >WT</text>
<text x="610.70" y="336.10" font-size="14.5" text-anchor="start" stroke="#141414" stroke-width="0.3" >SR-BI<tspan font-size="8.3" dy="-5" stroke-width="0.1">−/−</tspan></text>
<text x="617.25" y="529.60" font-size="15.7" text-anchor="middle" stroke="#141414" stroke-width="0.3" >Sham</text>
<text x="668.45" y="529.60" font-size="15.7" text-anchor="middle" stroke="#141414" stroke-width="0.3" >SR-BI</text>
<text transform="translate(74.4,235.3) rotate(-90)" font-size="19.4" stroke="#141414" stroke-width="0.3">Relative mRNA levels</text>
<text transform="translate(74.8,509.3) rotate(-90)" font-size="19.4" stroke="#141414" stroke-width="0.3">Relative mRNA levels</text>
<text x="7.20" y="256.40" font-size="17.6" text-anchor="start" stroke="#141414" stroke-width="0.3" >Transfection</text>
<text x="10.50" y="532.60" font-size="17.6" text-anchor="start" stroke="#141414" stroke-width="0.3" >Transfection</text>
</svg>
</body></html>
